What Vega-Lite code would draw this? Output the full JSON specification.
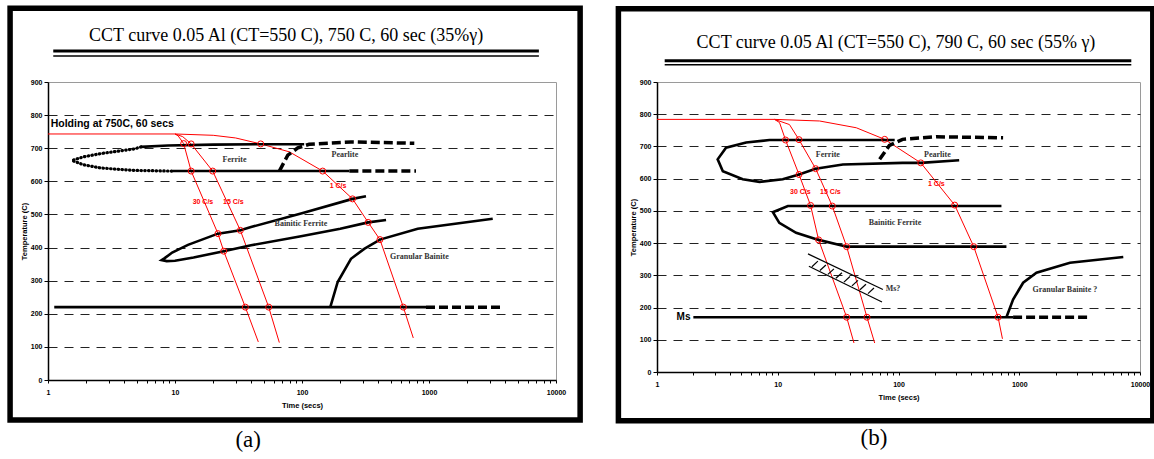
{
  "$schema": "https://vega.github.io/schema/vega-lite/v6.json",
  "padding": {"left": 6, "top": 4, "right": 0, "bottom": 0},
  "spacing": 31,
  "config": {
    "view": {"stroke": "#9a9a9a", "strokeWidth": 1},
    "axis": {"labelFont": "Liberation Sans", "labelFontWeight": "bold", "labelFontSize": 7, "labelColor": "black", "titleFont": "Liberation Sans", "titleFontWeight": "bold", "titleFontSize": 7.5, "titleColor": "black", "domainColor": "black", "domainWidth": 1.5, "tickColor": "black", "tickWidth": 1},
    "axisX": {"grid": false, "tickSize": 3, "labelPadding": 5, "titlePadding": 6, "labelOverlap": false, "labelFlush": false},
    "axisY": {"grid": true, "gridColor": "#222222", "gridDash": [9, 7], "gridWidth": 1, "tickSize": 4, "labelPadding": 2, "titlePadding": 2, "labelOverlap": false}
  },
  "datasets": {
    "a_lines": [
      {"curve": "Holding", "o": 1, "t": 1, "T": 743}, {"curve": "Holding", "o": 2, "t": 10, "T": 743},
      {"curve": "30 C/s", "o": 1, "t": 10, "T": 743}, {"curve": "30 C/s", "o": 2, "t": 10.6, "T": 737}, {"curve": "30 C/s", "o": 3, "t": 11.7, "T": 714}, {"curve": "30 C/s", "o": 4, "t": 13.4, "T": 631}, {"curve": "30 C/s", "o": 5, "t": 21.8, "T": 442}, {"curve": "30 C/s", "o": 6, "t": 24.2, "T": 389}, {"curve": "30 C/s", "o": 7, "t": 35.8, "T": 220}, {"curve": "30 C/s", "o": 8, "t": 45.3, "T": 115},
      {"curve": "15 C/s", "o": 1, "t": 10, "T": 743}, {"curve": "15 C/s", "o": 2, "t": 11.5, "T": 735}, {"curve": "15 C/s", "o": 3, "t": 13.4, "T": 713}, {"curve": "15 C/s", "o": 4, "t": 19.8, "T": 631}, {"curve": "15 C/s", "o": 5, "t": 32.7, "T": 452}, {"curve": "15 C/s", "o": 6, "t": 54.7, "T": 220}, {"curve": "15 C/s", "o": 7, "t": 66.3, "T": 113},
      {"curve": "1 C/s", "o": 1, "t": 10, "T": 743}, {"curve": "1 C/s", "o": 2, "t": 20, "T": 739}, {"curve": "1 C/s", "o": 3, "t": 30, "T": 731}, {"curve": "1 C/s", "o": 4, "t": 47.3, "T": 713}, {"curve": "1 C/s", "o": 5, "t": 79.6, "T": 689}, {"curve": "1 C/s", "o": 6, "t": 145.5, "T": 631}, {"curve": "1 C/s", "o": 7, "t": 250, "T": 547}, {"curve": "1 C/s", "o": 8, "t": 332, "T": 476}, {"curve": "1 C/s", "o": 9, "t": 411, "T": 424}, {"curve": "1 C/s", "o": 10, "t": 628, "T": 220}, {"curve": "1 C/s", "o": 11, "t": 752, "T": 127},
      {"curve": "Ferrite start (nose)", "o": 1, "t": 5.4, "T": 704}, {"curve": "Ferrite start (nose)", "o": 2, "t": 4.8, "T": 698}, {"curve": "Ferrite start (nose)", "o": 3, "t": 2.63, "T": 684}, {"curve": "Ferrite start (nose)", "o": 4, "t": 1.9, "T": 674}, {"curve": "Ferrite start (nose)", "o": 5, "t": 1.545, "T": 663}, {"curve": "Ferrite start (nose)", "o": 6, "t": 1.9, "T": 650}, {"curve": "Ferrite start (nose)", "o": 7, "t": 2.63, "T": 640}, {"curve": "Ferrite start (nose)", "o": 8, "t": 4.8, "T": 633}, {"curve": "Ferrite start (nose)", "o": 9, "t": 9.6, "T": 631},
      {"curve": "Ferrite start", "o": 1, "t": 5.4, "T": 704}, {"curve": "Ferrite start", "o": 2, "t": 8.8, "T": 708}, {"curve": "Ferrite start", "o": 3, "t": 20, "T": 711}, {"curve": "Ferrite start", "o": 4, "t": 50, "T": 712}, {"curve": "Ferrite start", "o": 5, "t": 104, "T": 712},
      {"curve": "Ferrite finish", "o": 1, "t": 9.6, "T": 631}, {"curve": "Ferrite finish", "o": 2, "t": 236, "T": 631},
      {"curve": "Ferrite finish (est.)", "o": 1, "t": 236, "T": 631}, {"curve": "Ferrite finish (est.)", "o": 2, "t": 790, "T": 631},
      {"curve": "Pearlite start", "o": 1, "t": 66.3, "T": 631}, {"curve": "Pearlite start", "o": 2, "t": 77.3, "T": 679}, {"curve": "Pearlite start", "o": 3, "t": 92.7, "T": 701}, {"curve": "Pearlite start", "o": 4, "t": 114, "T": 712}, {"curve": "Pearlite start", "o": 5, "t": 243, "T": 719}, {"curve": "Pearlite start", "o": 6, "t": 766, "T": 715},
      {"curve": "Bainitic ferrite", "o": 1, "t": 319, "T": 555}, {"curve": "Bainitic ferrite", "o": 2, "t": 250, "T": 547}, {"curve": "Bainitic ferrite", "o": 3, "t": 98.2, "T": 503}, {"curve": "Bainitic ferrite", "o": 4, "t": 39.7, "T": 462}, {"curve": "Bainitic ferrite", "o": 5, "t": 32.7, "T": 452}, {"curve": "Bainitic ferrite", "o": 6, "t": 21.8, "T": 442}, {"curve": "Bainitic ferrite", "o": 7, "t": 12.65, "T": 408}, {"curve": "Bainitic ferrite", "o": 8, "t": 9.5, "T": 385}, {"curve": "Bainitic ferrite", "o": 9, "t": 8.3, "T": 368}, {"curve": "Bainitic ferrite", "o": 10, "t": 7.86, "T": 362}, {"curve": "Bainitic ferrite", "o": 11, "t": 8.6, "T": 359}, {"curve": "Bainitic ferrite", "o": 12, "t": 10, "T": 360}, {"curve": "Bainitic ferrite", "o": 13, "t": 14, "T": 370}, {"curve": "Bainitic ferrite", "o": 14, "t": 24.2, "T": 389}, {"curve": "Bainitic ferrite", "o": 15, "t": 39.7, "T": 407}, {"curve": "Bainitic ferrite", "o": 16, "t": 98.2, "T": 434}, {"curve": "Bainitic ferrite", "o": 17, "t": 200, "T": 457}, {"curve": "Bainitic ferrite", "o": 18, "t": 332, "T": 476}, {"curve": "Bainitic ferrite", "o": 19, "t": 459, "T": 483},
      {"curve": "Granular bainite", "o": 1, "t": 167, "T": 220}, {"curve": "Granular bainite", "o": 2, "t": 191, "T": 296}, {"curve": "Granular bainite", "o": 3, "t": 243, "T": 366}, {"curve": "Granular bainite", "o": 4, "t": 309, "T": 396}, {"curve": "Granular bainite", "o": 5, "t": 411, "T": 424}, {"curve": "Granular bainite", "o": 6, "t": 815, "T": 457}, {"curve": "Granular bainite", "o": 7, "t": 3175, "T": 487},
      {"curve": "Ms", "o": 1, "t": 1.12, "T": 220}, {"curve": "Ms", "o": 2, "t": 947, "T": 220},
      {"curve": "Ms (est.)", "o": 1, "t": 947, "T": 220}, {"curve": "Ms (est.)", "o": 2, "t": 3800, "T": 220}
    ],
    "a_pts": [
      {"rate": "30 C/s", "t": 11.7, "T": 714}, {"rate": "30 C/s", "t": 13.4, "T": 631}, {"rate": "30 C/s", "t": 21.8, "T": 442}, {"rate": "30 C/s", "t": 24.2, "T": 389}, {"rate": "30 C/s", "t": 35.8, "T": 220},
      {"rate": "15 C/s", "t": 13.4, "T": 713}, {"rate": "15 C/s", "t": 19.8, "T": 631}, {"rate": "15 C/s", "t": 32.7, "T": 452}, {"rate": "15 C/s", "t": 54.7, "T": 220},
      {"rate": "1 C/s", "t": 47.3, "T": 713}, {"rate": "1 C/s", "t": 145.5, "T": 631}, {"rate": "1 C/s", "t": 250, "T": 547}, {"rate": "1 C/s", "t": 332, "T": 476}, {"rate": "1 C/s", "t": 411, "T": 424}, {"rate": "1 C/s", "t": 628, "T": 220}
    ],
    "a_labels": [
      {"text": "Holding at 750C, 60 secs", "kind": "note", "t": 1.05, "T": 773},
      {"text": "Ferrite", "kind": "phase", "t": 29.4, "T": 664},
      {"text": "Pearlite", "kind": "phase", "t": 217.6, "T": 679},
      {"text": "Bainitic Ferrite", "kind": "phase", "t": 98, "T": 471},
      {"text": "Granular Bainite", "kind": "phase", "t": 839, "T": 372},
      {"text": "30 C/s", "kind": "rate", "t": 16.6, "T": 538},
      {"text": "15 C/s", "kind": "rate", "t": 28.8, "T": 538},
      {"text": "1 C/s", "kind": "rate", "t": 192.3, "T": 585}
    ],
    "b_lines": [
      {"curve": "Holding", "o": 1, "t": 1, "T": 784}, {"curve": "Holding", "o": 2, "t": 9.4, "T": 784},
      {"curve": "30 C/s", "o": 1, "t": 9.4, "T": 784}, {"curve": "30 C/s", "o": 2, "t": 10.35, "T": 774}, {"curve": "30 C/s", "o": 3, "t": 11.6, "T": 720}, {"curve": "30 C/s", "o": 4, "t": 15.0, "T": 613}, {"curve": "30 C/s", "o": 5, "t": 18.7, "T": 517}, {"curve": "30 C/s", "o": 6, "t": 21.8, "T": 410}, {"curve": "30 C/s", "o": 7, "t": 37.2, "T": 170}, {"curve": "30 C/s", "o": 8, "t": 42.8, "T": 90},
      {"curve": "15 C/s", "o": 1, "t": 9.4, "T": 784}, {"curve": "15 C/s", "o": 2, "t": 12.5, "T": 768}, {"curve": "15 C/s", "o": 3, "t": 15.0, "T": 721}, {"curve": "15 C/s", "o": 4, "t": 20.6, "T": 631}, {"curve": "15 C/s", "o": 5, "t": 28.3, "T": 515}, {"curve": "15 C/s", "o": 6, "t": 37.2, "T": 389}, {"curve": "15 C/s", "o": 7, "t": 54.8, "T": 170}, {"curve": "15 C/s", "o": 8, "t": 63.5, "T": 90},
      {"curve": "1 C/s", "o": 1, "t": 9.4, "T": 784}, {"curve": "1 C/s", "o": 2, "t": 22.2, "T": 779}, {"curve": "1 C/s", "o": 3, "t": 44.7, "T": 758}, {"curve": "1 C/s", "o": 4, "t": 76.8, "T": 722}, {"curve": "1 C/s", "o": 5, "t": 153, "T": 649}, {"curve": "1 C/s", "o": 6, "t": 292, "T": 518}, {"curve": "1 C/s", "o": 7, "t": 420, "T": 389}, {"curve": "1 C/s", "o": 8, "t": 668, "T": 170}, {"curve": "1 C/s", "o": 9, "t": 726, "T": 103},
      {"curve": "Ferrite", "o": 1, "t": 93, "T": 720}, {"curve": "Ferrite", "o": 2, "t": 8.54, "T": 720}, {"curve": "Ferrite", "o": 3, "t": 5.47, "T": 712}, {"curve": "Ferrite", "o": 4, "t": 3.73, "T": 696}, {"curve": "Ferrite", "o": 5, "t": 3.18, "T": 660}, {"curve": "Ferrite", "o": 6, "t": 3.51, "T": 623}, {"curve": "Ferrite", "o": 7, "t": 5.13, "T": 598}, {"curve": "Ferrite", "o": 8, "t": 7.07, "T": 590}, {"curve": "Ferrite", "o": 9, "t": 11.0, "T": 598}, {"curve": "Ferrite", "o": 10, "t": 15.0, "T": 613}, {"curve": "Ferrite", "o": 11, "t": 20.6, "T": 631}, {"curve": "Ferrite", "o": 12, "t": 34.6, "T": 644}, {"curve": "Ferrite", "o": 13, "t": 108, "T": 649}, {"curve": "Ferrite", "o": 14, "t": 153, "T": 649}, {"curve": "Ferrite", "o": 15, "t": 318, "T": 657},
      {"curve": "Pearlite start", "o": 1, "t": 69.8, "T": 660}, {"curve": "Pearlite start", "o": 2, "t": 84, "T": 703}, {"curve": "Pearlite start", "o": 3, "t": 108, "T": 722}, {"curve": "Pearlite start", "o": 4, "t": 206, "T": 730}, {"curve": "Pearlite start", "o": 5, "t": 735, "T": 727},
      {"curve": "Bainitic ferrite", "o": 1, "t": 712, "T": 515}, {"curve": "Bainitic ferrite", "o": 2, "t": 12.13, "T": 515}, {"curve": "Bainitic ferrite", "o": 3, "t": 9.11, "T": 496}, {"curve": "Bainitic ferrite", "o": 4, "t": 10.3, "T": 463}, {"curve": "Bainitic ferrite", "o": 5, "t": 14.2, "T": 432}, {"curve": "Bainitic ferrite", "o": 6, "t": 21.8, "T": 410}, {"curve": "Bainitic ferrite", "o": 7, "t": 34.6, "T": 392}, {"curve": "Bainitic ferrite", "o": 8, "t": 37.2, "T": 389}, {"curve": "Bainitic ferrite", "o": 9, "t": 783, "T": 389},
      {"curve": "Granular bainite", "o": 1, "t": 783, "T": 170}, {"curve": "Granular bainite", "o": 2, "t": 889, "T": 225}, {"curve": "Granular bainite", "o": 3, "t": 1077, "T": 277}, {"curve": "Granular bainite", "o": 4, "t": 1389, "T": 308}, {"curve": "Granular bainite", "o": 5, "t": 2630, "T": 339}, {"curve": "Granular bainite", "o": 6, "t": 7270, "T": 357},
      {"curve": "Ms", "o": 1, "t": 2.0, "T": 170}, {"curve": "Ms", "o": 2, "t": 889, "T": 170},
      {"curve": "Ms (est.)", "o": 1, "t": 889, "T": 170}, {"curve": "Ms (est.)", "o": 2, "t": 3725, "T": 170}
    ],
    "b_pts": [
      {"rate": "30 C/s", "t": 11.6, "T": 720}, {"rate": "30 C/s", "t": 15.0, "T": 613}, {"rate": "30 C/s", "t": 18.7, "T": 517}, {"rate": "30 C/s", "t": 21.8, "T": 410}, {"rate": "30 C/s", "t": 37.2, "T": 170},
      {"rate": "15 C/s", "t": 15.0, "T": 721}, {"rate": "15 C/s", "t": 20.6, "T": 631}, {"rate": "15 C/s", "t": 28.3, "T": 515}, {"rate": "15 C/s", "t": 37.2, "T": 389}, {"rate": "15 C/s", "t": 54.8, "T": 170},
      {"rate": "1 C/s", "t": 76.8, "T": 722}, {"rate": "1 C/s", "t": 153, "T": 649}, {"rate": "1 C/s", "t": 292, "T": 518}, {"rate": "1 C/s", "t": 420, "T": 389}, {"rate": "1 C/s", "t": 668, "T": 170}
    ],
    "b_hatch": [
      {"part": "edge", "t": 17.8, "T": 366.7, "t2": 74.3, "T2": 255.8},
      {"part": "edge", "t": 18.1, "T": 328, "t2": 73, "T2": 217.5},
      {"part": "hatch", "t": 19.18, "T": 326.8, "t2": 21.5, "T2": 344.0},
      {"part": "hatch", "t": 22.34, "T": 314.9, "t2": 25.05, "T2": 332.1},
      {"part": "hatch", "t": 26.03, "T": 303.0, "t2": 29.19, "T2": 320.1},
      {"part": "hatch", "t": 30.33, "T": 291.0, "t2": 34.01, "T2": 308.2},
      {"part": "hatch", "t": 35.33, "T": 279.1, "t2": 39.62, "T2": 296.3},
      {"part": "hatch", "t": 41.16, "T": 267.2, "t2": 46.15, "T2": 284.3},
      {"part": "hatch", "t": 47.95, "T": 255.2, "t2": 53.77, "T2": 272.4},
      {"part": "hatch", "t": 55.86, "T": 243.3, "t2": 62.64, "T2": 260.5}
    ],
    "b_labels": [
      {"text": "Ferrite", "kind": "phase", "t": 26.0, "T": 673},
      {"text": "Pearlite", "kind": "phase", "t": 209.8, "T": 675},
      {"text": "Bainitic Ferrite", "kind": "phase", "t": 93.5, "T": 461},
      {"text": "Granular Bainite ?", "kind": "phase", "t": 2388, "T": 253},
      {"text": "Ms?", "kind": "phase", "t": 90, "T": 259},
      {"text": "30 C/s", "kind": "rate", "t": 15.4, "T": 559},
      {"text": "15 C/s", "kind": "rate", "t": 27.3, "T": 559},
      {"text": "1 C/s", "kind": "rate", "t": 205.8, "T": 582},
      {"text": "Ms", "kind": "ms", "t": 1.659, "T": 170}
    ]
  },
  "hconcat": [
    {
      "width": 508,
      "height": 298,
      "layer": [
        {
          "data": {"values": [{}]},
          "mark": {"type": "rect", "filled": false, "color": "black", "strokeWidth": 5.5},
          "encoding": {
            "x": {"datum": 0.5029, "type": "quantitative", "scale": {"type": "log", "domain": [1, 10000], "nice": false}, "axis": {"title": "Time (secs)", "values": [1, 2, 3, 4, 5, 6, 7, 8, 9, 10, 20, 30, 40, 50, 60, 70, 80, 90, 100, 200, 300, 400, 500, 600, 700, 800, 900, 1000, 2000, 3000, 4000, 5000, 6000, 7000, 8000, 9000, 10000], "labelExpr": "indexof([1,10,100,1000,10000], datum.value) >= 0 ? format(datum.value, 'd') : ''"}},
            "x2": {"datum": 15488},
            "y": {"datum": 1123, "type": "quantitative", "scale": {"domain": [0, 900], "nice": false}, "axis": {"title": "Temperature (C)", "values": [0, 100, 200, 300, 400, 500, 600, 700, 800, 900], "gridOpacity": {"condition": {"test": "datum.value === 0 || datum.value === 900", "value": 0}, "value": 1}}},
            "y2": {"datum": -121}
          }
        },
        {
          "data": {"values": [{}]},
          "mark": {"type": "rule", "color": "black", "strokeWidth": 3},
          "encoding": {
            "x": {"datum": 1.1, "type": "quantitative", "scale": {"type": "log", "domain": [1, 10000], "nice": false}, "axis": {"title": "Time (secs)", "values": [1, 2, 3, 4, 5, 6, 7, 8, 9, 10, 20, 30, 40, 50, 60, 70, 80, 90, 100, 200, 300, 400, 500, 600, 700, 800, 900, 1000, 2000, 3000, 4000, 5000, 6000, 7000, 8000, 9000, 10000], "labelExpr": "indexof([1,10,100,1000,10000], datum.value) >= 0 ? format(datum.value, 'd') : ''"}},
            "x2": {"datum": 7332},
            "y": {"datum": 993.5, "type": "quantitative", "scale": {"domain": [0, 900], "nice": false}, "axis": {"title": "Temperature (C)", "values": [0, 100, 200, 300, 400, 500, 600, 700, 800, 900], "gridOpacity": {"condition": {"test": "datum.value === 0 || datum.value === 900", "value": 0}, "value": 1}}}
          }
        },
        {
          "data": {"values": [{}]},
          "mark": {"type": "rule", "color": "black", "strokeWidth": 1.5},
          "encoding": {
            "x": {"datum": 1.1, "type": "quantitative", "scale": {"type": "log", "domain": [1, 10000], "nice": false}, "axis": {"title": "Time (secs)", "values": [1, 2, 3, 4, 5, 6, 7, 8, 9, 10, 20, 30, 40, 50, 60, 70, 80, 90, 100, 200, 300, 400, 500, 600, 700, 800, 900, 1000, 2000, 3000, 4000, 5000, 6000, 7000, 8000, 9000, 10000], "labelExpr": "indexof([1,10,100,1000,10000], datum.value) >= 0 ? format(datum.value, 'd') : ''"}},
            "x2": {"datum": 7332},
            "y": {"datum": 978.5, "type": "quantitative", "scale": {"domain": [0, 900], "nice": false}, "axis": {"title": "Temperature (C)", "values": [0, 100, 200, 300, 400, 500, 600, 700, 800, 900], "gridOpacity": {"condition": {"test": "datum.value === 0 || datum.value === 900", "value": 0}, "value": 1}}}
          }
        },
        {
          "data": {"values": [{}]},
          "mark": {"type": "text", "text": "CCT curve  0.05 Al (CT=550 C), 750 C, 60 sec (35%γ)", "font": "Liberation Serif", "fontSize": 18, "color": "black", "baseline": "middle"},
          "encoding": {
            "x": {"datum": 75, "type": "quantitative", "scale": {"type": "log", "domain": [1, 10000], "nice": false}, "axis": {"title": "Time (secs)", "values": [1, 2, 3, 4, 5, 6, 7, 8, 9, 10, 20, 30, 40, 50, 60, 70, 80, 90, 100, 200, 300, 400, 500, 600, 700, 800, 900, 1000, 2000, 3000, 4000, 5000, 6000, 7000, 8000, 9000, 10000], "labelExpr": "indexof([1,10,100,1000,10000], datum.value) >= 0 ? format(datum.value, 'd') : ''"}},
            "y": {"datum": 1040, "type": "quantitative", "scale": {"domain": [0, 900], "nice": false}, "axis": {"title": "Temperature (C)", "values": [0, 100, 200, 300, 400, 500, 600, 700, 800, 900], "gridOpacity": {"condition": {"test": "datum.value === 0 || datum.value === 900", "value": 0}, "value": 1}}}
          }
        },
        {
          "data": {"values": [{}]},
          "mark": {"type": "text", "text": "(a)", "font": "Liberation Serif", "fontSize": 23, "color": "black", "baseline": "middle"},
          "encoding": {
            "x": {"datum": 37.7, "type": "quantitative", "scale": {"type": "log", "domain": [1, 10000], "nice": false}, "axis": {"title": "Time (secs)", "values": [1, 2, 3, 4, 5, 6, 7, 8, 9, 10, 20, 30, 40, 50, 60, 70, 80, 90, 100, 200, 300, 400, 500, 600, 700, 800, 900, 1000, 2000, 3000, 4000, 5000, 6000, 7000, 8000, 9000, 10000], "labelExpr": "indexof([1,10,100,1000,10000], datum.value) >= 0 ? format(datum.value, 'd') : ''"}},
            "y": {"datum": -180, "type": "quantitative", "scale": {"domain": [0, 900], "nice": false}, "axis": {"title": "Temperature (C)", "values": [0, 100, 200, 300, 400, 500, 600, 700, 800, 900], "gridOpacity": {"condition": {"test": "datum.value === 0 || datum.value === 900", "value": 0}, "value": 1}}}
          }
        },
        {
          "data": {"name": "a_lines"},
          "transform": [{"filter": {"field": "curve", "oneOf": ["Holding", "30 C/s", "15 C/s", "1 C/s"]}}],
          "mark": {"type": "line", "color": "#ff0000", "strokeWidth": 1},
          "encoding": {
            "x": {"field": "t", "type": "quantitative", "scale": {"type": "log", "domain": [1, 10000], "nice": false}, "axis": {"title": "Time (secs)", "values": [1, 2, 3, 4, 5, 6, 7, 8, 9, 10, 20, 30, 40, 50, 60, 70, 80, 90, 100, 200, 300, 400, 500, 600, 700, 800, 900, 1000, 2000, 3000, 4000, 5000, 6000, 7000, 8000, 9000, 10000], "labelExpr": "indexof([1,10,100,1000,10000], datum.value) >= 0 ? format(datum.value, 'd') : ''"}},
            "y": {"field": "T", "type": "quantitative", "scale": {"domain": [0, 900], "nice": false}, "axis": {"title": "Temperature (C)", "values": [0, 100, 200, 300, 400, 500, 600, 700, 800, 900], "gridOpacity": {"condition": {"test": "datum.value === 0 || datum.value === 900", "value": 0}, "value": 1}}},
            "detail": {"field": "curve"},
            "order": {"field": "o"}
          }
        },
        {
          "data": {"name": "a_lines"},
          "transform": [{"filter": {"field": "curve", "oneOf": ["Ferrite start", "Ferrite finish", "Bainitic ferrite", "Granular bainite", "Ms"]}}],
          "mark": {"type": "line", "color": "black", "strokeWidth": 2.6},
          "encoding": {
            "x": {"field": "t", "type": "quantitative", "scale": {"type": "log", "domain": [1, 10000], "nice": false}, "axis": {"title": "Time (secs)", "values": [1, 2, 3, 4, 5, 6, 7, 8, 9, 10, 20, 30, 40, 50, 60, 70, 80, 90, 100, 200, 300, 400, 500, 600, 700, 800, 900, 1000, 2000, 3000, 4000, 5000, 6000, 7000, 8000, 9000, 10000], "labelExpr": "indexof([1,10,100,1000,10000], datum.value) >= 0 ? format(datum.value, 'd') : ''"}},
            "y": {"field": "T", "type": "quantitative", "scale": {"domain": [0, 900], "nice": false}, "axis": {"title": "Temperature (C)", "values": [0, 100, 200, 300, 400, 500, 600, 700, 800, 900], "gridOpacity": {"condition": {"test": "datum.value === 0 || datum.value === 900", "value": 0}, "value": 1}}},
            "detail": {"field": "curve"},
            "order": {"field": "o"}
          }
        },
        {
          "data": {"name": "a_lines"},
          "transform": [{"filter": {"field": "curve", "oneOf": ["Ferrite finish (est.)", "Pearlite start", "Ms (est.)"]}}],
          "mark": {"type": "line", "color": "black", "strokeWidth": 3.5, "strokeDash": [9, 4]},
          "encoding": {
            "x": {"field": "t", "type": "quantitative", "scale": {"type": "log", "domain": [1, 10000], "nice": false}, "axis": {"title": "Time (secs)", "values": [1, 2, 3, 4, 5, 6, 7, 8, 9, 10, 20, 30, 40, 50, 60, 70, 80, 90, 100, 200, 300, 400, 500, 600, 700, 800, 900, 1000, 2000, 3000, 4000, 5000, 6000, 7000, 8000, 9000, 10000], "labelExpr": "indexof([1,10,100,1000,10000], datum.value) >= 0 ? format(datum.value, 'd') : ''"}},
            "y": {"field": "T", "type": "quantitative", "scale": {"domain": [0, 900], "nice": false}, "axis": {"title": "Temperature (C)", "values": [0, 100, 200, 300, 400, 500, 600, 700, 800, 900], "gridOpacity": {"condition": {"test": "datum.value === 0 || datum.value === 900", "value": 0}, "value": 1}}},
            "detail": {"field": "curve"},
            "order": {"field": "o"}
          }
        },
        {
          "data": {"name": "a_lines"},
          "transform": [{"filter": {"field": "curve", "oneOf": ["Ferrite start (nose)"]}}],
          "mark": {"type": "line", "color": "black", "strokeWidth": 3.2, "strokeCap": "round", "strokeDash": [0.5, 3.3]},
          "encoding": {
            "x": {"field": "t", "type": "quantitative", "scale": {"type": "log", "domain": [1, 10000], "nice": false}, "axis": {"title": "Time (secs)", "values": [1, 2, 3, 4, 5, 6, 7, 8, 9, 10, 20, 30, 40, 50, 60, 70, 80, 90, 100, 200, 300, 400, 500, 600, 700, 800, 900, 1000, 2000, 3000, 4000, 5000, 6000, 7000, 8000, 9000, 10000], "labelExpr": "indexof([1,10,100,1000,10000], datum.value) >= 0 ? format(datum.value, 'd') : ''"}},
            "y": {"field": "T", "type": "quantitative", "scale": {"domain": [0, 900], "nice": false}, "axis": {"title": "Temperature (C)", "values": [0, 100, 200, 300, 400, 500, 600, 700, 800, 900], "gridOpacity": {"condition": {"test": "datum.value === 0 || datum.value === 900", "value": 0}, "value": 1}}},
            "detail": {"field": "curve"},
            "order": {"field": "o"}
          }
        },
        {
          "data": {"name": "a_pts"},
          "mark": {"type": "point", "shape": "circle", "filled": false, "color": "#ff0000", "strokeWidth": 1, "size": 36, "opacity": 1},
          "encoding": {
            "x": {"field": "t", "type": "quantitative", "scale": {"type": "log", "domain": [1, 10000], "nice": false}, "axis": {"title": "Time (secs)", "values": [1, 2, 3, 4, 5, 6, 7, 8, 9, 10, 20, 30, 40, 50, 60, 70, 80, 90, 100, 200, 300, 400, 500, 600, 700, 800, 900, 1000, 2000, 3000, 4000, 5000, 6000, 7000, 8000, 9000, 10000], "labelExpr": "indexof([1,10,100,1000,10000], datum.value) >= 0 ? format(datum.value, 'd') : ''"}},
            "y": {"field": "T", "type": "quantitative", "scale": {"domain": [0, 900], "nice": false}, "axis": {"title": "Temperature (C)", "values": [0, 100, 200, 300, 400, 500, 600, 700, 800, 900], "gridOpacity": {"condition": {"test": "datum.value === 0 || datum.value === 900", "value": 0}, "value": 1}}}
          }
        },
        {
          "data": {"name": "a_labels"},
          "transform": [{"filter": "datum.kind === 'phase'"}],
          "mark": {"type": "text", "font": "Liberation Serif", "fontWeight": "bold", "fontSize": 8, "color": "#333333", "baseline": "middle"},
          "encoding": {
            "x": {"field": "t", "type": "quantitative", "scale": {"type": "log", "domain": [1, 10000], "nice": false}, "axis": {"title": "Time (secs)", "values": [1, 2, 3, 4, 5, 6, 7, 8, 9, 10, 20, 30, 40, 50, 60, 70, 80, 90, 100, 200, 300, 400, 500, 600, 700, 800, 900, 1000, 2000, 3000, 4000, 5000, 6000, 7000, 8000, 9000, 10000], "labelExpr": "indexof([1,10,100,1000,10000], datum.value) >= 0 ? format(datum.value, 'd') : ''"}},
            "y": {"field": "T", "type": "quantitative", "scale": {"domain": [0, 900], "nice": false}, "axis": {"title": "Temperature (C)", "values": [0, 100, 200, 300, 400, 500, 600, 700, 800, 900], "gridOpacity": {"condition": {"test": "datum.value === 0 || datum.value === 900", "value": 0}, "value": 1}}},
            "text": {"field": "text"}
          }
        },
        {
          "data": {"name": "a_labels"},
          "transform": [{"filter": "datum.kind === 'rate'"}],
          "mark": {"type": "text", "font": "Liberation Sans", "fontWeight": "bold", "fontSize": 7, "color": "#ff0000", "baseline": "middle"},
          "encoding": {
            "x": {"field": "t", "type": "quantitative", "scale": {"type": "log", "domain": [1, 10000], "nice": false}, "axis": {"title": "Time (secs)", "values": [1, 2, 3, 4, 5, 6, 7, 8, 9, 10, 20, 30, 40, 50, 60, 70, 80, 90, 100, 200, 300, 400, 500, 600, 700, 800, 900, 1000, 2000, 3000, 4000, 5000, 6000, 7000, 8000, 9000, 10000], "labelExpr": "indexof([1,10,100,1000,10000], datum.value) >= 0 ? format(datum.value, 'd') : ''"}},
            "y": {"field": "T", "type": "quantitative", "scale": {"domain": [0, 900], "nice": false}, "axis": {"title": "Temperature (C)", "values": [0, 100, 200, 300, 400, 500, 600, 700, 800, 900], "gridOpacity": {"condition": {"test": "datum.value === 0 || datum.value === 900", "value": 0}, "value": 1}}},
            "text": {"field": "text"}
          }
        },
        {
          "data": {"name": "a_labels"},
          "transform": [{"filter": "datum.kind === 'note'"}],
          "mark": {"type": "text", "font": "Liberation Sans", "fontWeight": "bold", "fontSize": 10.5, "color": "black", "align": "left", "baseline": "middle"},
          "encoding": {
            "x": {"field": "t", "type": "quantitative", "scale": {"type": "log", "domain": [1, 10000], "nice": false}, "axis": {"title": "Time (secs)", "values": [1, 2, 3, 4, 5, 6, 7, 8, 9, 10, 20, 30, 40, 50, 60, 70, 80, 90, 100, 200, 300, 400, 500, 600, 700, 800, 900, 1000, 2000, 3000, 4000, 5000, 6000, 7000, 8000, 9000, 10000], "labelExpr": "indexof([1,10,100,1000,10000], datum.value) >= 0 ? format(datum.value, 'd') : ''"}},
            "y": {"field": "T", "type": "quantitative", "scale": {"domain": [0, 900], "nice": false}, "axis": {"title": "Temperature (C)", "values": [0, 100, 200, 300, 400, 500, 600, 700, 800, 900], "gridOpacity": {"condition": {"test": "datum.value === 0 || datum.value === 900", "value": 0}, "value": 1}}},
            "text": {"field": "text"}
          }
        }
      ]
    },
    {
      "width": 483,
      "height": 290,
      "layer": [
        {
          "data": {"values": [{}]},
          "mark": {"type": "rect", "filled": false, "color": "black", "strokeWidth": 5.5},
          "encoding": {
            "x": {"datum": 0.4789, "type": "quantitative", "scale": {"type": "log", "domain": [1, 10000], "nice": false}, "axis": {"title": "Time (secs)", "values": [1, 2, 3, 4, 5, 6, 7, 8, 9, 10, 20, 30, 40, 50, 60, 70, 80, 90, 100, 200, 300, 400, 500, 600, 700, 800, 900, 1000, 2000, 3000, 4000, 5000, 6000, 7000, 8000, 9000, 10000], "labelExpr": "indexof([1,10,100,1000,10000], datum.value) >= 0 ? format(datum.value, 'd') : ''"}},
            "x2": {"datum": 12764},
            "y": {"datum": 1127.4, "type": "quantitative", "scale": {"domain": [0, 900], "nice": false}, "axis": {"title": "Temperature (C)", "values": [0, 100, 200, 300, 400, 500, 600, 700, 800, 900], "gridOpacity": {"condition": {"test": "datum.value === 0 || datum.value === 900", "value": 0}, "value": 1}}},
            "y2": {"datum": -151.3}
          }
        },
        {
          "data": {"values": [{}]},
          "mark": {"type": "rule", "color": "black", "strokeWidth": 3},
          "encoding": {
            "x": {"datum": 1.158, "type": "quantitative", "scale": {"type": "log", "domain": [1, 10000], "nice": false}, "axis": {"title": "Time (secs)", "values": [1, 2, 3, 4, 5, 6, 7, 8, 9, 10, 20, 30, 40, 50, 60, 70, 80, 90, 100, 200, 300, 400, 500, 600, 700, 800, 900, 1000, 2000, 3000, 4000, 5000, 6000, 7000, 8000, 9000, 10000], "labelExpr": "indexof([1,10,100,1000,10000], datum.value) >= 0 ? format(datum.value, 'd') : ''"}},
            "x2": {"datum": 8472},
            "y": {"datum": 965.8, "type": "quantitative", "scale": {"domain": [0, 900], "nice": false}, "axis": {"title": "Temperature (C)", "values": [0, 100, 200, 300, 400, 500, 600, 700, 800, 900], "gridOpacity": {"condition": {"test": "datum.value === 0 || datum.value === 900", "value": 0}, "value": 1}}}
          }
        },
        {
          "data": {"values": [{}]},
          "mark": {"type": "rule", "color": "black", "strokeWidth": 1.5},
          "encoding": {
            "x": {"datum": 1.158, "type": "quantitative", "scale": {"type": "log", "domain": [1, 10000], "nice": false}, "axis": {"title": "Time (secs)", "values": [1, 2, 3, 4, 5, 6, 7, 8, 9, 10, 20, 30, 40, 50, 60, 70, 80, 90, 100, 200, 300, 400, 500, 600, 700, 800, 900, 1000, 2000, 3000, 4000, 5000, 6000, 7000, 8000, 9000, 10000], "labelExpr": "indexof([1,10,100,1000,10000], datum.value) >= 0 ? format(datum.value, 'd') : ''"}},
            "x2": {"datum": 8472},
            "y": {"datum": 953.4, "type": "quantitative", "scale": {"domain": [0, 900], "nice": false}, "axis": {"title": "Temperature (C)", "values": [0, 100, 200, 300, 400, 500, 600, 700, 800, 900], "gridOpacity": {"condition": {"test": "datum.value === 0 || datum.value === 900", "value": 0}, "value": 1}}}
          }
        },
        {
          "data": {"values": [{}]},
          "mark": {"type": "text", "text": "CCT curve  0.05 Al (CT=550 C), 790 C, 60 sec (55% γ)", "font": "Liberation Serif", "fontSize": 18, "color": "black", "baseline": "middle"},
          "encoding": {
            "x": {"datum": 95.3, "type": "quantitative", "scale": {"type": "log", "domain": [1, 10000], "nice": false}, "axis": {"title": "Time (secs)", "values": [1, 2, 3, 4, 5, 6, 7, 8, 9, 10, 20, 30, 40, 50, 60, 70, 80, 90, 100, 200, 300, 400, 500, 600, 700, 800, 900, 1000, 2000, 3000, 4000, 5000, 6000, 7000, 8000, 9000, 10000], "labelExpr": "indexof([1,10,100,1000,10000], datum.value) >= 0 ? format(datum.value, 'd') : ''"}},
            "y": {"datum": 1021, "type": "quantitative", "scale": {"domain": [0, 900], "nice": false}, "axis": {"title": "Temperature (C)", "values": [0, 100, 200, 300, 400, 500, 600, 700, 800, 900], "gridOpacity": {"condition": {"test": "datum.value === 0 || datum.value === 900", "value": 0}, "value": 1}}}
          }
        },
        {
          "data": {"values": [{}]},
          "mark": {"type": "text", "text": "(b)", "font": "Liberation Serif", "fontSize": 23, "color": "black", "baseline": "middle"},
          "encoding": {
            "x": {"datum": 62.6, "type": "quantitative", "scale": {"type": "log", "domain": [1, 10000], "nice": false}, "axis": {"title": "Time (secs)", "values": [1, 2, 3, 4, 5, 6, 7, 8, 9, 10, 20, 30, 40, 50, 60, 70, 80, 90, 100, 200, 300, 400, 500, 600, 700, 800, 900, 1000, 2000, 3000, 4000, 5000, 6000, 7000, 8000, 9000, 10000], "labelExpr": "indexof([1,10,100,1000,10000], datum.value) >= 0 ? format(datum.value, 'd') : ''"}},
            "y": {"datum": -204, "type": "quantitative", "scale": {"domain": [0, 900], "nice": false}, "axis": {"title": "Temperature (C)", "values": [0, 100, 200, 300, 400, 500, 600, 700, 800, 900], "gridOpacity": {"condition": {"test": "datum.value === 0 || datum.value === 900", "value": 0}, "value": 1}}}
          }
        },
        {
          "data": {"name": "b_lines"},
          "transform": [{"filter": {"field": "curve", "oneOf": ["Holding", "30 C/s", "15 C/s", "1 C/s"]}}],
          "mark": {"type": "line", "color": "#ff0000", "strokeWidth": 1},
          "encoding": {
            "x": {"field": "t", "type": "quantitative", "scale": {"type": "log", "domain": [1, 10000], "nice": false}, "axis": {"title": "Time (secs)", "values": [1, 2, 3, 4, 5, 6, 7, 8, 9, 10, 20, 30, 40, 50, 60, 70, 80, 90, 100, 200, 300, 400, 500, 600, 700, 800, 900, 1000, 2000, 3000, 4000, 5000, 6000, 7000, 8000, 9000, 10000], "labelExpr": "indexof([1,10,100,1000,10000], datum.value) >= 0 ? format(datum.value, 'd') : ''"}},
            "y": {"field": "T", "type": "quantitative", "scale": {"domain": [0, 900], "nice": false}, "axis": {"title": "Temperature (C)", "values": [0, 100, 200, 300, 400, 500, 600, 700, 800, 900], "gridOpacity": {"condition": {"test": "datum.value === 0 || datum.value === 900", "value": 0}, "value": 1}}},
            "detail": {"field": "curve"},
            "order": {"field": "o"}
          }
        },
        {
          "data": {"name": "b_lines"},
          "transform": [{"filter": {"field": "curve", "oneOf": ["Ferrite", "Bainitic ferrite", "Granular bainite", "Ms"]}}],
          "mark": {"type": "line", "color": "black", "strokeWidth": 2.6},
          "encoding": {
            "x": {"field": "t", "type": "quantitative", "scale": {"type": "log", "domain": [1, 10000], "nice": false}, "axis": {"title": "Time (secs)", "values": [1, 2, 3, 4, 5, 6, 7, 8, 9, 10, 20, 30, 40, 50, 60, 70, 80, 90, 100, 200, 300, 400, 500, 600, 700, 800, 900, 1000, 2000, 3000, 4000, 5000, 6000, 7000, 8000, 9000, 10000], "labelExpr": "indexof([1,10,100,1000,10000], datum.value) >= 0 ? format(datum.value, 'd') : ''"}},
            "y": {"field": "T", "type": "quantitative", "scale": {"domain": [0, 900], "nice": false}, "axis": {"title": "Temperature (C)", "values": [0, 100, 200, 300, 400, 500, 600, 700, 800, 900], "gridOpacity": {"condition": {"test": "datum.value === 0 || datum.value === 900", "value": 0}, "value": 1}}},
            "detail": {"field": "curve"},
            "order": {"field": "o"}
          }
        },
        {
          "data": {"name": "b_lines"},
          "transform": [{"filter": {"field": "curve", "oneOf": ["Pearlite start", "Ms (est.)"]}}],
          "mark": {"type": "line", "color": "black", "strokeWidth": 3.5, "strokeDash": [9, 4]},
          "encoding": {
            "x": {"field": "t", "type": "quantitative", "scale": {"type": "log", "domain": [1, 10000], "nice": false}, "axis": {"title": "Time (secs)", "values": [1, 2, 3, 4, 5, 6, 7, 8, 9, 10, 20, 30, 40, 50, 60, 70, 80, 90, 100, 200, 300, 400, 500, 600, 700, 800, 900, 1000, 2000, 3000, 4000, 5000, 6000, 7000, 8000, 9000, 10000], "labelExpr": "indexof([1,10,100,1000,10000], datum.value) >= 0 ? format(datum.value, 'd') : ''"}},
            "y": {"field": "T", "type": "quantitative", "scale": {"domain": [0, 900], "nice": false}, "axis": {"title": "Temperature (C)", "values": [0, 100, 200, 300, 400, 500, 600, 700, 800, 900], "gridOpacity": {"condition": {"test": "datum.value === 0 || datum.value === 900", "value": 0}, "value": 1}}},
            "detail": {"field": "curve"},
            "order": {"field": "o"}
          }
        },
        {
          "data": {"name": "b_hatch"},
          "mark": {"type": "rule", "color": "black", "strokeWidth": 1.2},
          "encoding": {
            "x": {"field": "t", "type": "quantitative", "scale": {"type": "log", "domain": [1, 10000], "nice": false}, "axis": {"title": "Time (secs)", "values": [1, 2, 3, 4, 5, 6, 7, 8, 9, 10, 20, 30, 40, 50, 60, 70, 80, 90, 100, 200, 300, 400, 500, 600, 700, 800, 900, 1000, 2000, 3000, 4000, 5000, 6000, 7000, 8000, 9000, 10000], "labelExpr": "indexof([1,10,100,1000,10000], datum.value) >= 0 ? format(datum.value, 'd') : ''"}},
            "x2": {"field": "t2"},
            "y": {"field": "T", "type": "quantitative", "scale": {"domain": [0, 900], "nice": false}, "axis": {"title": "Temperature (C)", "values": [0, 100, 200, 300, 400, 500, 600, 700, 800, 900], "gridOpacity": {"condition": {"test": "datum.value === 0 || datum.value === 900", "value": 0}, "value": 1}}},
            "y2": {"field": "T2"}
          }
        },
        {
          "data": {"name": "b_pts"},
          "mark": {"type": "point", "shape": "circle", "filled": false, "color": "#ff0000", "strokeWidth": 1, "size": 36, "opacity": 1},
          "encoding": {
            "x": {"field": "t", "type": "quantitative", "scale": {"type": "log", "domain": [1, 10000], "nice": false}, "axis": {"title": "Time (secs)", "values": [1, 2, 3, 4, 5, 6, 7, 8, 9, 10, 20, 30, 40, 50, 60, 70, 80, 90, 100, 200, 300, 400, 500, 600, 700, 800, 900, 1000, 2000, 3000, 4000, 5000, 6000, 7000, 8000, 9000, 10000], "labelExpr": "indexof([1,10,100,1000,10000], datum.value) >= 0 ? format(datum.value, 'd') : ''"}},
            "y": {"field": "T", "type": "quantitative", "scale": {"domain": [0, 900], "nice": false}, "axis": {"title": "Temperature (C)", "values": [0, 100, 200, 300, 400, 500, 600, 700, 800, 900], "gridOpacity": {"condition": {"test": "datum.value === 0 || datum.value === 900", "value": 0}, "value": 1}}}
          }
        },
        {
          "data": {"name": "b_labels"},
          "transform": [{"filter": "datum.kind === 'phase'"}],
          "mark": {"type": "text", "font": "Liberation Serif", "fontWeight": "bold", "fontSize": 8, "color": "#333333", "baseline": "middle"},
          "encoding": {
            "x": {"field": "t", "type": "quantitative", "scale": {"type": "log", "domain": [1, 10000], "nice": false}, "axis": {"title": "Time (secs)", "values": [1, 2, 3, 4, 5, 6, 7, 8, 9, 10, 20, 30, 40, 50, 60, 70, 80, 90, 100, 200, 300, 400, 500, 600, 700, 800, 900, 1000, 2000, 3000, 4000, 5000, 6000, 7000, 8000, 9000, 10000], "labelExpr": "indexof([1,10,100,1000,10000], datum.value) >= 0 ? format(datum.value, 'd') : ''"}},
            "y": {"field": "T", "type": "quantitative", "scale": {"domain": [0, 900], "nice": false}, "axis": {"title": "Temperature (C)", "values": [0, 100, 200, 300, 400, 500, 600, 700, 800, 900], "gridOpacity": {"condition": {"test": "datum.value === 0 || datum.value === 900", "value": 0}, "value": 1}}},
            "text": {"field": "text"}
          }
        },
        {
          "data": {"name": "b_labels"},
          "transform": [{"filter": "datum.kind === 'rate'"}],
          "mark": {"type": "text", "font": "Liberation Sans", "fontWeight": "bold", "fontSize": 7, "color": "#ff0000", "baseline": "middle"},
          "encoding": {
            "x": {"field": "t", "type": "quantitative", "scale": {"type": "log", "domain": [1, 10000], "nice": false}, "axis": {"title": "Time (secs)", "values": [1, 2, 3, 4, 5, 6, 7, 8, 9, 10, 20, 30, 40, 50, 60, 70, 80, 90, 100, 200, 300, 400, 500, 600, 700, 800, 900, 1000, 2000, 3000, 4000, 5000, 6000, 7000, 8000, 9000, 10000], "labelExpr": "indexof([1,10,100,1000,10000], datum.value) >= 0 ? format(datum.value, 'd') : ''"}},
            "y": {"field": "T", "type": "quantitative", "scale": {"domain": [0, 900], "nice": false}, "axis": {"title": "Temperature (C)", "values": [0, 100, 200, 300, 400, 500, 600, 700, 800, 900], "gridOpacity": {"condition": {"test": "datum.value === 0 || datum.value === 900", "value": 0}, "value": 1}}},
            "text": {"field": "text"}
          }
        },
        {
          "data": {"name": "b_labels"},
          "transform": [{"filter": "datum.kind === 'ms'"}],
          "mark": {"type": "text", "font": "Liberation Sans", "fontWeight": "bold", "fontSize": 10, "color": "black", "baseline": "middle"},
          "encoding": {
            "x": {"field": "t", "type": "quantitative", "scale": {"type": "log", "domain": [1, 10000], "nice": false}, "axis": {"title": "Time (secs)", "values": [1, 2, 3, 4, 5, 6, 7, 8, 9, 10, 20, 30, 40, 50, 60, 70, 80, 90, 100, 200, 300, 400, 500, 600, 700, 800, 900, 1000, 2000, 3000, 4000, 5000, 6000, 7000, 8000, 9000, 10000], "labelExpr": "indexof([1,10,100,1000,10000], datum.value) >= 0 ? format(datum.value, 'd') : ''"}},
            "y": {"field": "T", "type": "quantitative", "scale": {"domain": [0, 900], "nice": false}, "axis": {"title": "Temperature (C)", "values": [0, 100, 200, 300, 400, 500, 600, 700, 800, 900], "gridOpacity": {"condition": {"test": "datum.value === 0 || datum.value === 900", "value": 0}, "value": 1}}},
            "text": {"field": "text"}
          }
        }
      ]
    }
  ]
}
